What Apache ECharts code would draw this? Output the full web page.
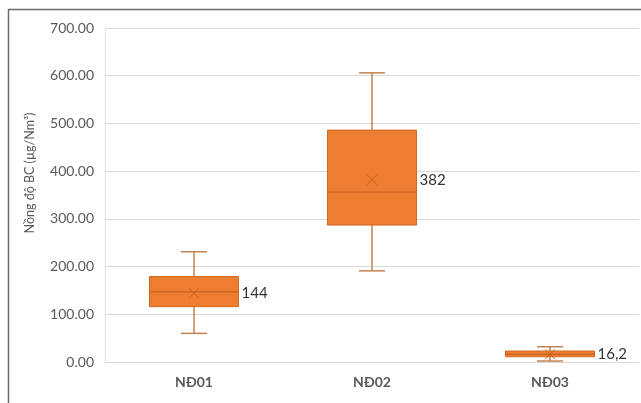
<!DOCTYPE html>
<html><head><meta charset="utf-8">
<script src="https://cdn.jsdelivr.net/npm/echarts@6/dist/echarts.min.js"></script>
<style>html,body{margin:0;padding:0;background:#fff}#c{width:641px;height:403px}</style>
</head><body><div id="c"></div>
<script>
const categories = ['NĐ01', 'NĐ02', 'NĐ03'];
const minVals = [60, 191, 2];
const q1Vals = [116, 287, 11];
const medianVals = [147, 356, 16];
const q3Vals = [179, 486, 23];
const maxVals = [231, 606, 32];
const meanVals = [144, 382, 16.2];
const meanLabels = ['144', '382', '16,2'];
const yMin = 0, yMax = 700, yStep = 100;

const rows = categories.map((c, i) => [i, minVals[i], q1Vals[i], medianVals[i], q3Vals[i], maxVals[i], meanVals[i]]);
const font = 'Lato, "Open Sans", sans-serif';

const chart = echarts.init(document.getElementById('c'));
chart.setOption({
  animation: false,
  backgroundColor: '#fff',
  grid: { left: 105, top: 28, width: 534, height: 334 },
  graphic: [
    { type: 'rect', shape: { x: 8.5, y: 9.5, width: 800, height: 600 }, style: { fill: 'none', stroke: '#6b6b6b', lineWidth: 1.5 }, z: 0 },
    { type: 'text', x: 30, y: 173, rotation: Math.PI / 2, style: { text: 'Nồng độ BC (µg/Nm³)', fill: '#595959', font: '12.5px ' + font, align: 'center', verticalAlign: 'middle' } }
  ],
  xAxis: {
    type: 'category', data: categories,
    axisLine: { show: true, lineStyle: { color: '#d9d9d9' } },
    axisTick: { show: false },
    axisLabel: { color: '#595959', fontSize: 14, fontWeight: 'bold', fontFamily: font, margin: 13 }
  },
  yAxis: {
    type: 'value', min: yMin, max: yMax, interval: yStep,
    axisLine: { show: true, lineStyle: { color: '#e3e3e3' } },
    axisTick: { show: false },
    splitLine: { lineStyle: { color: '#d9d9d9' } },
    axisLabel: { color: '#595959', fontSize: 14, fontFamily: font, margin: 11, formatter: v => v.toFixed(2) }
  },
  series: [{
    type: 'custom',
    data: rows,
    encode: { x: 0, y: [1, 2, 3, 4, 5, 6] },
    renderItem: function (params, api) {
      const i = api.value(0);
      const band = api.size([1, 0])[0];
      const half = band * 0.25;
      const cap = band * 0.073;
      const pMin = api.coord([i, api.value(1)]);
      const pQ1 = api.coord([i, api.value(2)]);
      const pMed = api.coord([i, api.value(3)]);
      const pQ3 = api.coord([i, api.value(4)]);
      const pMax = api.coord([i, api.value(5)]);
      const pMean = api.coord([i, api.value(6)]);
      const x = pMed[0];
      const wc = '#c4834f';
      const children = [
        { type: 'line', shape: { x1: x, y1: pMax[1], x2: x, y2: pQ3[1] }, style: { stroke: wc, lineWidth: 1.5 } },
        { type: 'line', shape: { x1: x, y1: pQ1[1], x2: x, y2: pMin[1] }, style: { stroke: wc, lineWidth: 1.5 } },
        { type: 'line', shape: { x1: x - cap, y1: pMax[1], x2: x + cap, y2: pMax[1] }, style: { stroke: wc, lineWidth: 1.5 } },
        { type: 'line', shape: { x1: x - cap, y1: pMin[1], x2: x + cap, y2: pMin[1] }, style: { stroke: wc, lineWidth: 1.5 } },
        { type: 'rect', shape: { x: x - half, y: pQ3[1], width: half * 2, height: pQ1[1] - pQ3[1] }, style: { fill: '#ed7d31', stroke: '#d0681f', lineWidth: 1 } },
        { type: 'line', shape: { x1: x - half, y1: pMed[1], x2: x + half, y2: pMed[1] }, style: { stroke: '#c8621c', lineWidth: 1.2 } },
        { type: 'line', shape: { x1: x - 5, y1: pMean[1] - 5, x2: x + 5, y2: pMean[1] + 5 }, style: { stroke: '#c8621c', lineWidth: 1 } },
        { type: 'line', shape: { x1: x - 5, y1: pMean[1] + 5, x2: x + 5, y2: pMean[1] - 5 }, style: { stroke: '#c8621c', lineWidth: 1 } },
        { type: 'text', x: x + half + 3, y: pMean[1], style: { text: meanLabels[params.dataIndex], fill: '#333', font: '15px ' + font, verticalAlign: 'middle', align: 'left' } }
      ];
      return { type: 'group', children: children };
    }
  }]
});
</script></body></html>
